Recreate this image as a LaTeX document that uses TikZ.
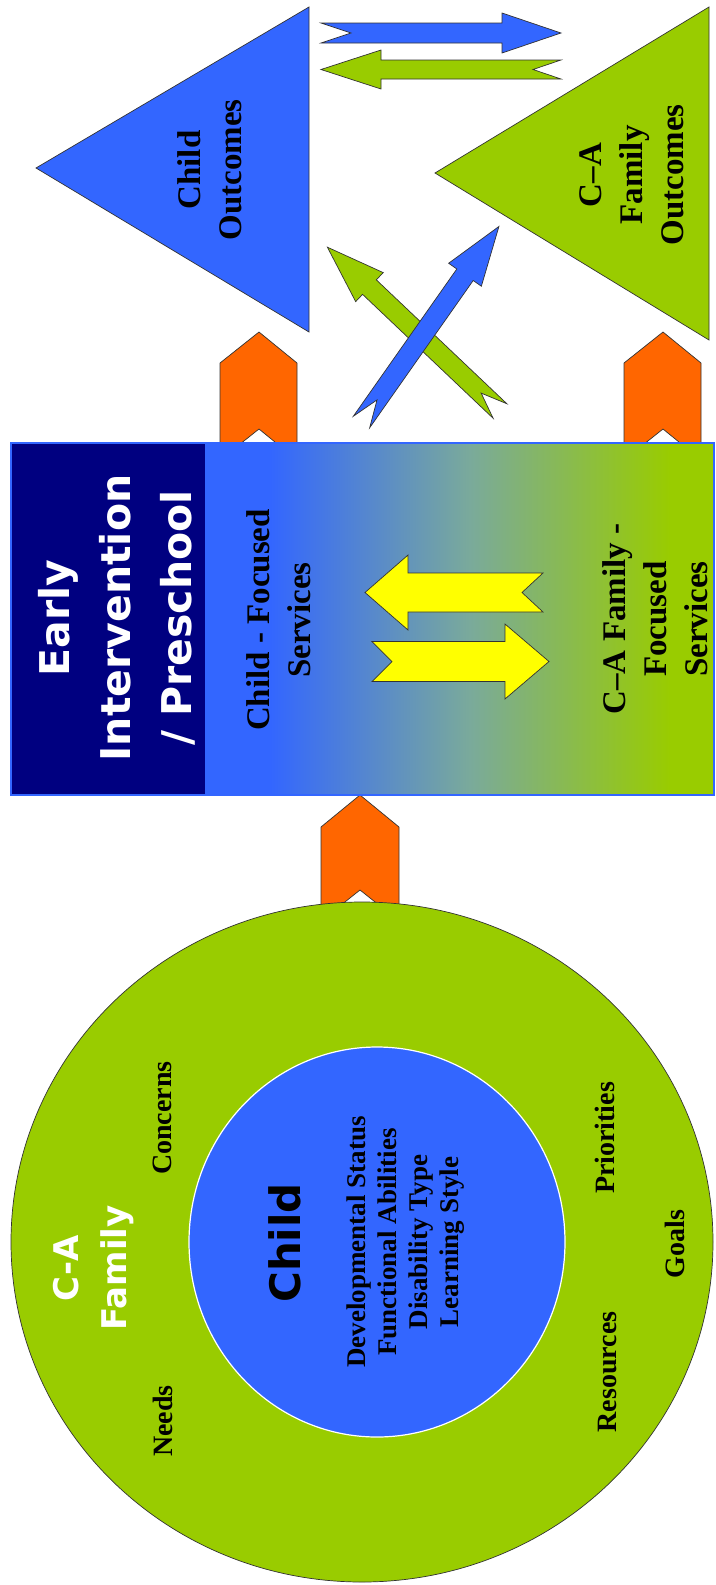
\documentclass[tikz,border=0pt]{standalone}
\usepackage{fontspec}
\setmainfont{Liberation Serif}
\newfontfamily\widesans{DejaVu Sans}
\usetikzlibrary{shadings}

\definecolor{ceblue}{HTML}{3366FF}
\definecolor{cegreen}{HTML}{99CC00}
\definecolor{cemid}{RGB}{122,170,155}
\definecolor{ceorange}{HTML}{FF6600}
\definecolor{cenavy}{HTML}{000080}
\definecolor{ceyellow}{HTML}{FFFF00}

\tikzset{
  outline/.style={draw=black!80,line width=0.7pt},
  lbl/.style={rotate=90,align=center,inner sep=0pt,font=\fontsize{33}{41}\selectfont\bfseries},
  ringlbl/.style={rotate=90,align=center,inner sep=0pt,font=\fontsize{28}{31}\selectfont\bfseries},
  traitlbl/.style={rotate=90,align=center,inner sep=0pt,font=\fontsize{27}{31}\selectfont\bfseries},
  titlelbl/.style={rotate=90,align=center,inner sep=0pt,text=white,font=\widesans\fontsize{41}{61}\selectfont\bfseries},
  famlbl/.style={rotate=90,align=center,inner sep=0pt,text=white,font=\widesans\fontsize{34}{48}\selectfont\bfseries},
  childlbl/.style={rotate=90,inner sep=0pt,font=\widesans\fontsize{42}{48}\selectfont\bfseries}
}

% #1 style, #2 tail, #3 angle, #4 length, #5 shaft, #6 head, #7 head length, #8 notch
\newcommand{\notcharrow}[8]{%
  \draw[#1,shift={#2},rotate=#3] (0,#5) -- ({#4-#7},#5) -- ({#4-#7},#6) -- (#4,0)
    -- ({#4-#7},-#6) -- ({#4-#7},-#5) -- (0,-#5) -- (#8,0) -- cycle;}

\begin{document}
\begin{tikzpicture}[x=1pt,y=-1pt]
\useasboundingbox (0,0) rectangle (715,1585);
% chevrons
\draw[outline,fill=ceorange] (220,460) -- (220,363) -- (259,332) -- (297,363) -- (297,460) -- (259,429) -- cycle;
\draw[outline,fill=ceorange] (624,460) -- (624,363) -- (663,332) -- (701,363) -- (701,460) -- (663,429) -- cycle;
\draw[outline,fill=ceorange] (321,921) -- (321,827) -- (360,795) -- (399,827) -- (399,921) -- (360,890) -- cycle;
% services box
\fill[cenavy] (11,443) rectangle (205,795);
\fill[ceblue] (205,443) rectangle (271,795);
\shade[left color=ceblue,right color=cegreen,middle color=cemid] (270,443) rectangle (670,795);
\fill[cegreen] (669,443) rectangle (714,795);
\draw[ceblue,line width=1.2pt] (11,443) rectangle (714,795);
% family and child
\draw[outline,fill=cegreen] (362,1242) ellipse [x radius=351,y radius=340];
\draw[white,line width=1.2pt,fill=ceblue] (377,1242) ellipse [x radius=188,y radius=195];
% outcomes
\draw[outline,fill=ceblue] (309,7) -- (309,332) -- (36,168) -- cycle;
\draw[outline,fill=cegreen] (709,7) -- (709,340) -- (435,173) -- cycle;
\notcharrow{outline,fill=ceblue}{(321,33)}{0}{240}{10}{20}{59}{30}
\notcharrow{outline,fill=cegreen}{(561,69.5)}{180}{240}{9.5}{19.5}{60}{28}
\notcharrow{outline,fill=cegreen}{(500,411)}{136.5}{238}{10}{20}{58}{26}
\notcharrow{outline,fill=ceblue}{(361.5,422)}{54.9}{239}{10}{20}{59}{27}
\notcharrow{outline,fill=ceyellow}{(543,592.5)}{180}{178}{19.5}{37.5}{43}{21}
\notcharrow{outline,fill=ceyellow}{(372,661.5)}{0}{177}{20}{37.5}{44}{20}

\node[lbl] (childout) at (210,170) {Child\\Outcomes};
\node[lbl] (famout) at (632,175) {C–A\\Family\\Outcomes};
\node[titlelbl] (eititle) at (117,618) {Early\\Intervention\\/ Preschool};
\node[lbl] (childsrv) at (279,620) {Child - Focused\\Services};
\node[lbl] (famsrv) at (655,619) {C–A Family -\\Focused\\Services};
\node[famlbl] (famname) at (94,1268) {C-A\\Family};
\node[childlbl] (childname) at (285,1243) {Child};
\node[traitlbl] (traits) at (406,1242) {Developmental Status\\Functional Abilities\\Disability Type\\Learning Style};
\node[ringlbl] (concerns) at (162,1118) {Concerns};
\node[ringlbl] (needs) at (163,1421) {Needs};
\node[ringlbl] (priorities) at (605,1138) {Priorities};
\node[ringlbl] (goals) at (675,1244) {Goals};
\node[ringlbl] (resources) at (607,1372) {Resources};
\end{tikzpicture}
\end{document}
